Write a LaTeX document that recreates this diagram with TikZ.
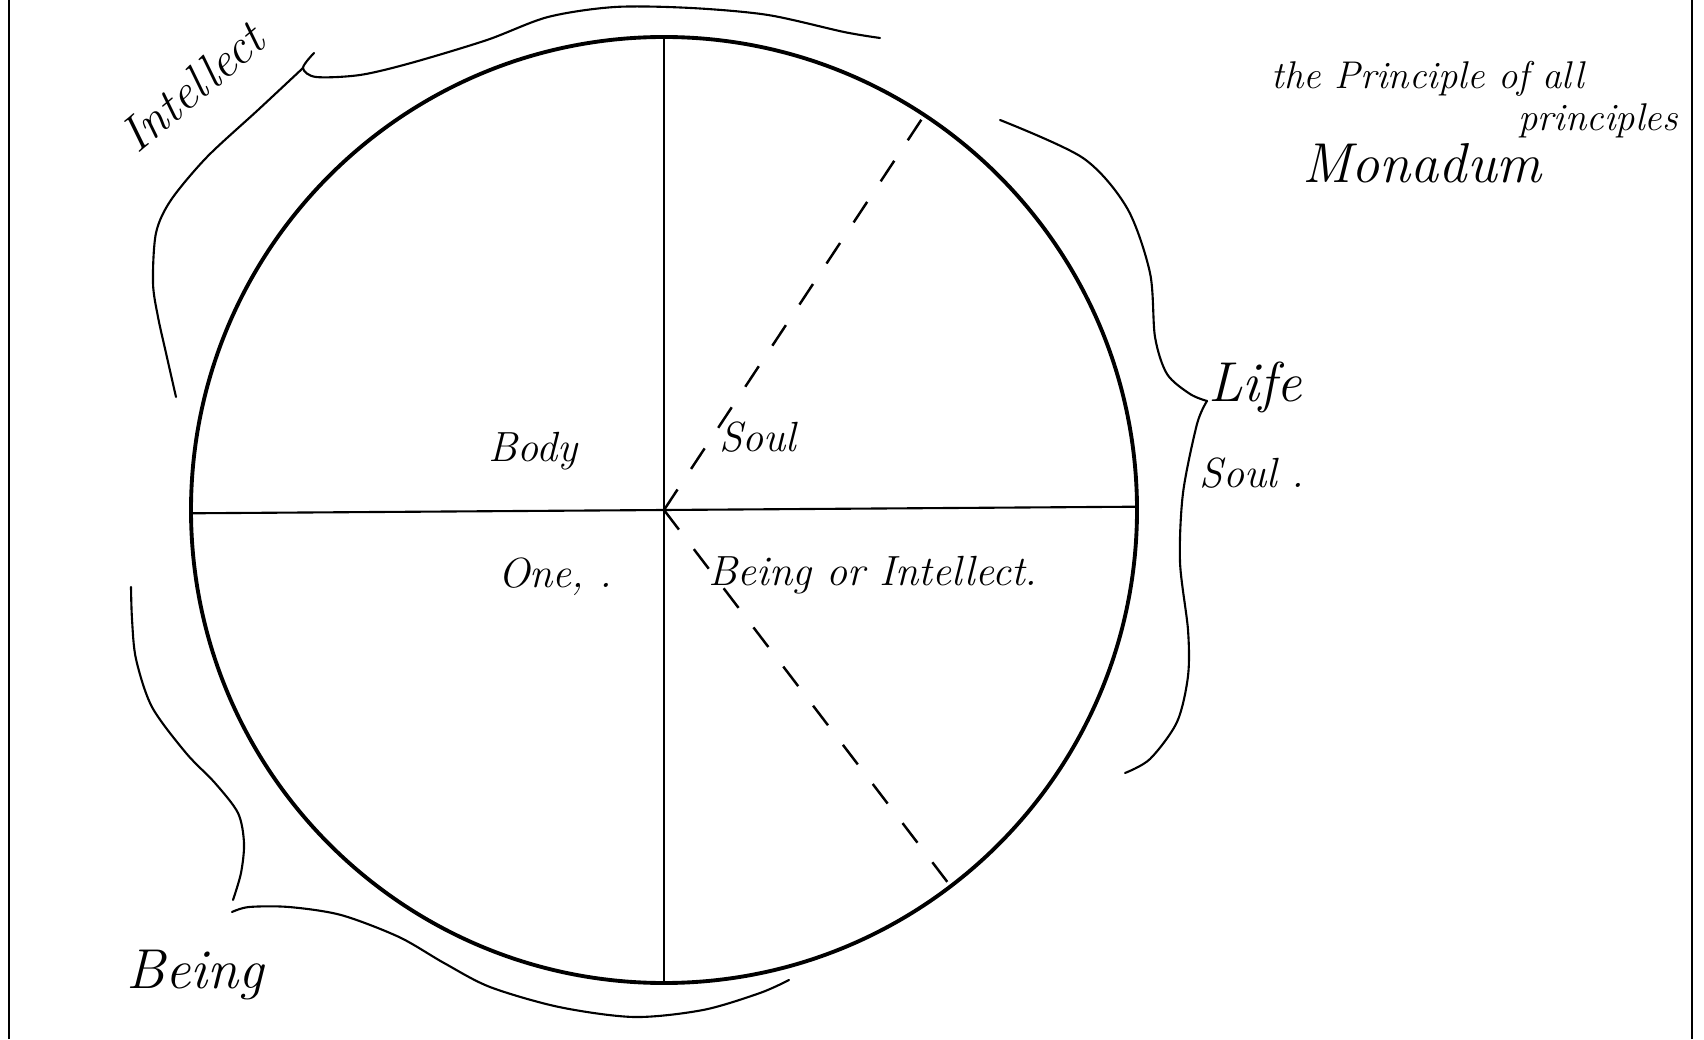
\documentclass[tikz,border=0pt]{standalone}
\usepackage{tikz}
\usetikzlibrary{calc,positioning}

\begin{document}
\begin{tikzpicture}[
    hand/.style={font=\itshape\fontsize{12}{14}\selectfont, inner sep=0pt},
    note/.style={font=\itshape\fontsize{11}{13}\selectfont, inner sep=0pt},
    big/.style={font=\itshape\fontsize{16}{18}\selectfont, inner sep=0pt},
    rim/.style={line width=1.1pt},
    axis/.style={line width=0.6pt},
    brace/.style={line width=0.6pt, line cap=round, line join=round},
    dashline/.style={line width=0.7pt, dash pattern=on 7pt off 7pt}
]
\useasboundingbox[fill=white] (0,0) rectangle (17.04,10.39);

% paper edges
\draw[axis] (0.09,0) -- (0.09,10.39);
\draw[axis] (16.92,0) -- (16.92,10.39);

% the circle and its quarters
\coordinate (c) at (6.64,5.29);
\draw[rim] (c) circle (4.73);
\draw[axis] ($(c)+(180.4:4.73)$) -- ($(c)+(0.4:4.73)$);
\draw[axis] ($(c)+(90:4.73)$) -- ($(c)+(270:4.73)$);
\draw[dashline] (c) -- ($(c)+(56.6:4.73)$);
\draw[dashline] (c) -- ($(c)+(-52.7:4.69)$);

\node[hand] (body) at (5.33,5.88) {Body};
\node[hand] (soul) at (7.58,6.02) {Soul};
\node[hand] (one) at (5.55,4.62) {One, .};
\node[hand] (being) at (8.73,4.64) {Being or Intellect.};

% brace: Intellect
\draw[brace] plot[smooth] coordinates {(3.14,9.86) (3.03,9.71) (3.16,9.62) (3.60,9.64) (4.11,9.76)
    (4.87,9.99) (5.48,10.22) (6.15,10.32) (6.91,10.31) (7.68,10.24) (8.44,10.07) (8.80,10.01)};
\draw[brace] plot[smooth] coordinates {(3.03,9.71) (2.58,9.29) (2.07,8.82) (1.71,8.39) (1.56,8.06)
    (1.53,7.56) (1.58,7.22) (1.66,6.86) (1.76,6.42)};
\node[font=\itshape\fontsize{14}{16}\selectfont, inner sep=0pt, rotate=40] (intellect)
    at (1.92,9.52) {Intellect};

% brace: Life / Soul
\coordinate (lifetip) at (12.07,6.38);
\draw[brace] plot[smooth] coordinates {(10.00,9.19) (10.83,8.81) (11.27,8.31) (11.50,7.66)
    (11.55,7.02) (11.67,6.65) (11.90,6.45) (lifetip)};
\draw[brace] plot[smooth] coordinates {(lifetip) (11.97,6.15) (11.83,5.46) (11.80,4.77)
    (11.88,4.09) (11.88,3.63) (11.77,3.17) (11.50,2.80) (11.25,2.66)};
\node[big] (life) at (12.55,6.52) {Life};
\node[hand] (lifesoul) at (12.52,5.66) {Soul .};

% brace: Being
\draw[brace] plot[smooth] coordinates {(1.31,4.52) (1.32,4.20) (1.36,3.80) (1.52,3.32) (1.86,2.86)
    (2.15,2.56) (2.38,2.26) (2.44,1.96) (2.41,1.66) (2.33,1.39)};
\draw[brace] plot[smooth] coordinates {(2.32,1.27) (2.49,1.32) (2.89,1.32) (3.41,1.24) (3.99,1.02)
    (4.44,0.76) (4.90,0.52) (5.59,0.32) (6.34,0.22) (7.03,0.29) (7.60,0.46) (7.89,0.59)};
\node[big] (beinglbl) at (1.95,0.64) {Being};

% top right note
\node[note] (principle) at (14.28,9.60) {the Principle of all};
\node[note] (principles) at (15.98,9.18) {principles};
\node[big] (monadum) at (14.22,8.76) {Monadum};
\end{tikzpicture}
\end{document}
